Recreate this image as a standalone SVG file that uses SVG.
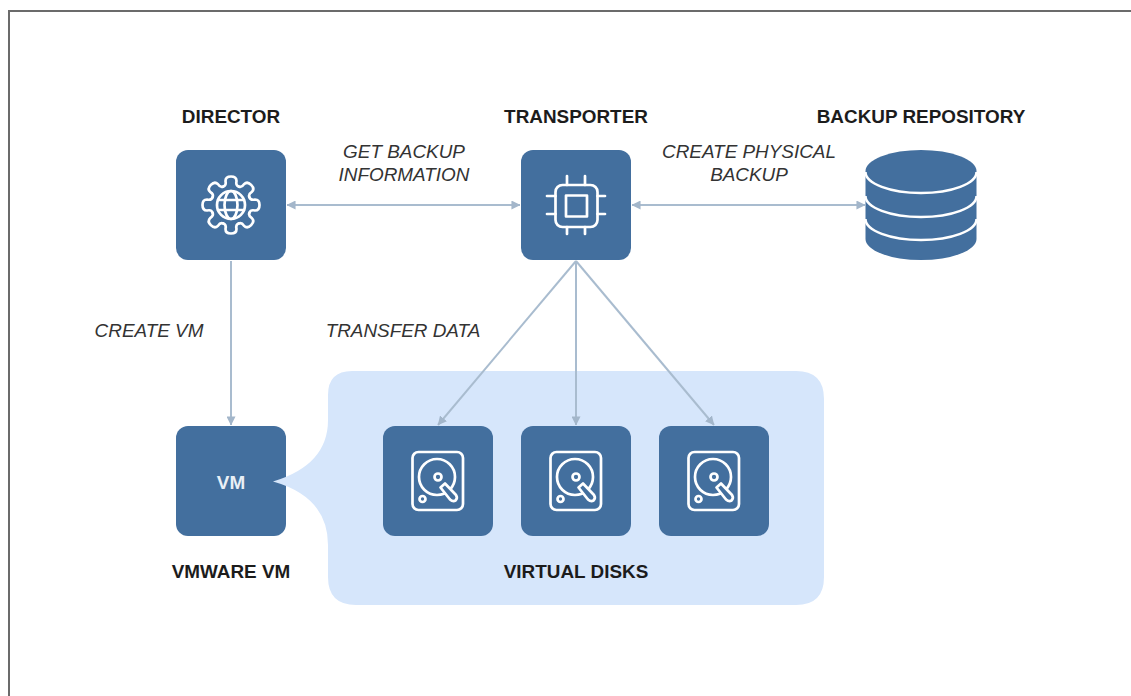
<svg xmlns="http://www.w3.org/2000/svg" width="1131" height="696" viewBox="0 0 1131 696">
<style>
.box{fill:#436f9e}
.ic{fill:none;stroke:#fff;stroke-width:2.700;stroke-linecap:round;stroke-linejoin:round}
.t{font-family:"Liberation Sans",Arial,sans-serif;font-size:18.900px;fill:#1c1c1c;text-anchor:middle}
.b{font-weight:700}
.i{font-style:italic;fill:#333}
.c{fill:none;stroke:#a9bccf;stroke-width:2}
</style>
<defs>
<marker id="a" viewBox="0 0 10 10" refX="9.500" refY="5" markerWidth="9" markerHeight="9" markerUnits="userSpaceOnUse" orient="auto-start-reverse"><path d="M0 0L10 5L0 10Z" fill="#a3b6ca"/></marker>
<g id="disk">
<rect x="29.500" y="26" width="50.500" height="58" rx="6" class="ic"/>
<circle cx="54" cy="51" r="18" class="ic"/>
<circle cx="55" cy="51" r="3.500" class="ic"/>
<circle cx="39.500" cy="73" r="3" class="ic"/>
<path d="M57.500 61.500L62 57.500L73 69Q75 72 72.500 74.500Q70 76 67 73.500Z" class="ic" style="fill:#436f9e"/>
</g>
<path id="tooth" class="ic" d="M-7.650 -18.500Q-4.500 -19.500 -5.500 -24Q-5.500 -28.500 0 -28.500Q5.500 -28.500 5.500 -24Q4.500 -19.500 7.650 -18.500"/>
</defs>
<rect width="1131" height="696" fill="#fff"/>
<path d="M9 696V11H1131" fill="none" stroke="#6b6b6b" stroke-width="2"/>
<g id="director">
<rect class="box" x="176" y="150" width="110" height="110" rx="12"/>
<g transform="translate(231 205)">
<use href="#tooth"/>
<use href="#tooth" transform="rotate(45)"/>
<use href="#tooth" transform="rotate(90)"/>
<use href="#tooth" transform="rotate(135)"/>
<use href="#tooth" transform="rotate(180)"/>
<use href="#tooth" transform="rotate(225)"/>
<use href="#tooth" transform="rotate(270)"/>
<use href="#tooth" transform="rotate(315)"/>
<circle class="ic" r="14"/>
<ellipse class="ic" rx="6.500" ry="14"/>
<path class="ic" d="M-13 -5H13M-13 5H13"/>
</g>
<text class="t b" x="231" y="122.500">DIRECTOR</text>
</g>
<g id="transporter">
<rect class="box" x="521" y="150" width="110" height="110" rx="12"/>
<rect class="ic" x="555.500" y="185" width="42" height="42" rx="7"/>
<rect class="ic" x="566" y="195.500" width="21" height="21"/>
<path class="ic" d="M567 176V185M585 176V185M567 227V234M585 227V234M547 196H555.500M547 214H555.500M597.500 196H605M597.500 214H605"/>
<text class="t b" x="576" y="122.500">TRANSPORTER</text>
</g>
<g id="backup-repository">
<path class="box" d="M865.500 171A55.500 21 0 0 1 976.500 171V239A55.500 21 0 0 1 865.500 239Z"/>
<path d="M865.500 172A55.500 21 0 0 0 976.500 172M865.500 196A55.500 21 0 0 0 976.500 196M865.500 219A55.500 21 0 0 0 976.500 219" fill="none" stroke="#fff" stroke-width="2.500"/>
<text class="t b" x="921" y="122.500">BACKUP REPOSITORY</text>
</g>
<g id="vmware-vm">
<rect class="box" x="176" y="426" width="110" height="110" rx="12"/>
<text class="t b" x="231" y="488.500" style="fill:#e9eff6">VM</text>
<text class="t b" x="231" y="577.500">VMWARE VM</text>
</g>
<g id="virtual-disks-region">
<path d="M352 371H796Q824 371 824 399V577Q824 605 796 605H356Q328 605 328 577V545Q328 497 273 481.500Q328 465 328 420V395Q328 371 352 371Z" fill="#d6e6fb"/>
</g>
<g id="connectors">
<path class="c" d="M231 261V425" marker-end="url(#a)"/>
<path class="c" d="M287 205H520" marker-start="url(#a)" marker-end="url(#a)"/>
<path class="c" d="M632 205H865" marker-start="url(#a)" marker-end="url(#a)"/>
<path class="c" d="M576 261L438 425" marker-end="url(#a)"/>
<path class="c" d="M576 261V425" marker-end="url(#a)"/>
<path class="c" d="M576 261L714 425" marker-end="url(#a)"/>
</g>
<g id="disk-1">
<rect class="box" x="383" y="426" width="110" height="110" rx="12"/>
<use href="#disk" x="383" y="426"/>
</g>
<g id="disk-2">
<rect class="box" x="521" y="426" width="110" height="110" rx="12"/>
<use href="#disk" x="521" y="426"/>
</g>
<g id="disk-3">
<rect class="box" x="659" y="426" width="110" height="110" rx="12"/>
<use href="#disk" x="659" y="426"/>
</g>
<text class="t b" x="576" y="577.500">VIRTUAL DISKS</text>
<text class="t i" x="404" y="157.500">GET BACKUP</text>
<text class="t i" x="404" y="180.500">INFORMATION</text>
<text class="t i" x="749" y="157.500">CREATE PHYSICAL</text>
<text class="t i" x="749" y="180.500">BACKUP</text>
<text class="t i" x="149" y="336.500">CREATE VM</text>
<text class="t i" x="403" y="336.500">TRANSFER DATA</text>
</svg>
